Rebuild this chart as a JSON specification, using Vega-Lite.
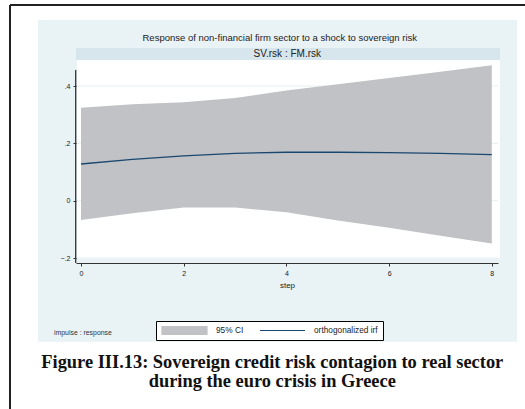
{
  "$schema": "https://vega.github.io/schema/vega-lite/v6.json",
  "autosize": "none",
  "width": 422,
  "height": 215,
  "padding": {"left": 76, "top": 48, "right": 27, "bottom": 146},
  "background": "white",
  "config": {"view": {"stroke": null}, "font": "Liberation Sans"},
  "data": {"values": [
    {"step": 0, "lo": -0.067, "hi": 0.324, "irf": 0.128},
    {"step": 1, "lo": -0.044, "hi": 0.336, "irf": 0.144},
    {"step": 2, "lo": -0.024, "hi": 0.343, "irf": 0.156},
    {"step": 3, "lo": -0.024, "hi": 0.358, "irf": 0.165},
    {"step": 4, "lo": -0.040, "hi": 0.384, "irf": 0.169},
    {"step": 5, "lo": -0.069, "hi": 0.406, "irf": 0.169},
    {"step": 6, "lo": -0.094, "hi": 0.428, "irf": 0.168},
    {"step": 7, "lo": -0.122, "hi": 0.450, "irf": 0.165},
    {"step": 8, "lo": -0.149, "hi": 0.472, "irf": 0.161}
  ]},
  "layer": [
    {
      "data": {"values": [{}]},
      "mark": {"type": "rect", "fill": "#e9f2f5"},
      "encoding": {
        "x": {"datum": -0.8374, "type": "quantitative"},
        "x2": {"datum": 8.4907},
        "y": {"datum": 0.6303, "type": "quantitative"},
        "y2": {"datum": -0.4918}
      }
    },
    {
      "data": {"values": [{}]},
      "mark": {"type": "rule", "stroke": "#222", "strokeWidth": 2},
      "encoding": {
        "x": {"datum": -1.3827, "type": "quantitative"},
        "x2": {"datum": 8.8},
        "y": {"datum": 0.6826, "type": "quantitative"}
      }
    },
    {
      "data": {"values": [{}]},
      "mark": {"type": "rule", "stroke": "#222", "strokeWidth": 2},
      "encoding": {
        "x": {"datum": -1.3827, "type": "quantitative"},
        "y": {"datum": 0.6826, "type": "quantitative"},
        "y2": {"datum": -0.8}
      }
    },
    {
      "data": {"values": [{}]},
      "mark": {"type": "rect", "fill": "white"},
      "encoding": {
        "x": {"datum": -0.0779, "type": "quantitative"},
        "x2": {"datum": 8.1597},
        "y": {"datum": 0.4907, "type": "quantitative"},
        "y2": {"datum": -0.2012}
      }
    },
    {
      "data": {"values": [{}]},
      "mark": {"type": "rect", "fill": "#d7e5ec"},
      "encoding": {
        "x": {"datum": -0.0974, "type": "quantitative"},
        "x2": {"datum": 8.1597},
        "y": {"datum": 0.5326, "type": "quantitative"},
        "y2": {"datum": 0.4907}
      }
    },
    {
      "data": {"values": [{"g": -0.2}, {"g": 0}, {"g": 0.2}, {"g": 0.4}]},
      "mark": {"type": "rule", "stroke": "#e6eff2", "strokeWidth": 1},
      "encoding": {
        "x": {"datum": -0.0779, "type": "quantitative"},
        "x2": {"datum": 8.1207},
        "y": {"field": "g", "type": "quantitative"}
      }
    },
    {
      "mark": {"type": "area", "opacity": 1},
      "encoding": {
        "x": {
          "field": "step", "type": "quantitative",
          "scale": {"domain": [-0.0974, 8.1207], "nice": false, "zero": false},
          "axis": {
            "values": [0, 2, 4, 6, 8], "grid": false, "tickSize": 3, "zindex": 1,
            "domainColor": "#333", "tickColor": "#333", "domainWidth": 1.2,
            "labelFontSize": 7, "labelPadding": 3, "labelColor": "#222",
            "title": "step", "titleFontSize": 8, "titleFontWeight": "normal",
            "titleColor": "#222", "titlePadding": 5
          }
        },
        "y": {
          "field": "lo", "type": "quantitative",
          "scale": {"domain": [-0.2173, 0.5326], "nice": false, "zero": false},
          "axis": {
            "values": [-0.2, 0, 0.2, 0.4], "grid": false, "domain": false, "zindex": 1,
            "tickSize": 3, "tickColor": "#333", "labelFontSize": 7,
            "labelPadding": 3, "labelColor": "#222", "title": null,
            "labelExpr": "datum.value == 0 ? '0' : replace(format(datum.value, '.1f'), '0.', '.')"
          }
        },
        "y2": {"field": "hi"},
        "color": {
          "datum": "95% CI",
          "type": "nominal",
          "scale": {"domain": ["95% CI", "orthogonalized irf"], "range": ["#c1c2c5", "#1a476f"]},
          "legend": {
            "orient": "none", "legendX": 80, "legendY": 273,
            "direction": "horizontal", "title": null,
            "fillColor": "white", "strokeColor": "#000", "padding": 5,
            "symbolSize": 2025, "symbolType": "M-1,-0.18H1V0.18H-1Z",
            "clipHeight": 9,
            "labelFontSize": 8.3, "labelOffset": 8, "columnPadding": 15,
            "labelColor": "#222",
            "encode": {
              "symbols": {
                "update": {
                  "shape": {"signal": "datum.value == '95% CI' ? 'M-1,-0.18H1V0.18H-1Z' : 'M-1,0H1'"},
                  "fill": {"signal": "datum.value == '95% CI' ? '#c1c2c5' : 'transparent'"},
                  "stroke": {"signal": "datum.value == '95% CI' ? 'transparent' : '#1a476f'"},
                  "strokeWidth": {"value": 1.2},
                  "opacity": {"value": 1}
                }
              }
            }
          }
        }
      }
    },
    {
      "mark": {"type": "line", "strokeWidth": 1.3},
      "encoding": {
        "x": {"field": "step", "type": "quantitative"},
        "y": {"field": "irf", "type": "quantitative"},
        "color": {
          "datum": "orthogonalized irf", "type": "nominal",
          "legend": {
            "orient": "none", "legendX": 80, "legendY": 273,
            "direction": "horizontal", "title": null,
            "fillColor": "white", "strokeColor": "#000", "padding": 5,
            "symbolSize": 2025, "symbolType": "M-1,-0.18H1V0.18H-1Z",
            "clipHeight": 9,
            "labelFontSize": 8.3, "labelOffset": 8, "columnPadding": 15,
            "labelColor": "#222",
            "encode": {
              "symbols": {
                "update": {
                  "shape": {"signal": "datum.value == '95% CI' ? 'M-1,-0.18H1V0.18H-1Z' : 'M-1,0H1'"},
                  "fill": {"signal": "datum.value == '95% CI' ? '#c1c2c5' : 'transparent'"},
                  "stroke": {"signal": "datum.value == '95% CI' ? 'transparent' : '#1a476f'"},
                  "strokeWidth": {"value": 1.2},
                  "opacity": {"value": 1}
                }
              }
            }
          }
        }
      }
    },
    {
      "data": {"values": [{}]},
      "mark": {"type": "rule", "stroke": "#333", "strokeWidth": 1.3},
      "encoding": {
        "x": {"datum": -0.1032, "type": "quantitative"},
        "y": {"datum": -0.2173, "type": "quantitative"},
        "y2": {"datum": 0.4559}
      }
    },
    {
      "data": {"values": [{"t": "Response of non-financial firm sector to a shock to sovereign risk"}]},
      "mark": {"type": "text", "fontSize": 9.5, "color": "#222", "baseline": "middle", "align": "center"},
      "encoding": {
        "x": {"datum": 3.871, "type": "quantitative"},
        "y": {"datum": 0.5664, "type": "quantitative"},
        "text": {"field": "t"}
      }
    },
    {
      "data": {"values": [{"t": "SV.rsk : FM.rsk"}]},
      "mark": {"type": "text", "fontSize": 10, "color": "#222", "baseline": "middle", "align": "center"},
      "encoding": {
        "x": {"datum": 4.017, "type": "quantitative"},
        "y": {"datum": 0.5106, "type": "quantitative"},
        "text": {"field": "t"}
      }
    },
    {
      "data": {"values": [{"t": "impulse : response"}]},
      "mark": {"type": "text", "fontSize": 6.9, "color": "#333", "baseline": "middle", "align": "left"},
      "encoding": {
        "x": {"datum": -0.5258, "type": "quantitative"},
        "y": {"datum": -0.4625, "type": "quantitative"},
        "text": {"field": "t"}
      }
    },
    {
      "data": {"values": [{"t": "Figure III.13: Sovereign credit risk contagion to real sector\nduring the euro crisis in Greece"}]},
      "mark": {"type": "text", "font": "Liberation Serif", "fontWeight": "bold", "fontSize": 18.4, "color": "#111", "baseline": "alphabetic", "align": "center", "lineBreak": "\n", "lineHeight": 18.4},
      "encoding": {
        "x": {"datum": 3.725, "type": "quantitative"},
        "y": {"datum": -0.5846, "type": "quantitative"},
        "text": {"field": "t"}
      }
    }
  ]
}
